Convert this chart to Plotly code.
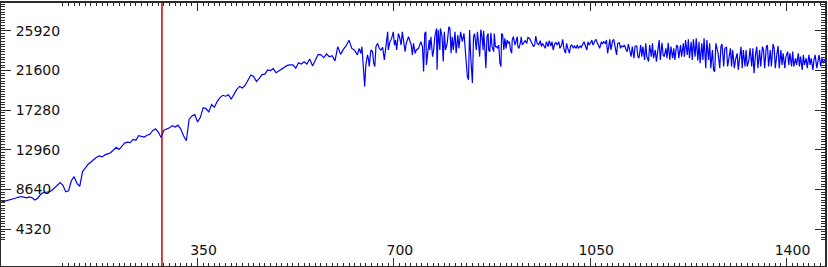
import plotly.graph_objects as go

# ---- data -------------------------------------------------------------
# smooth part of the spectrum: sampled every 5 units from 0 to 635
SMOOTH_START = 0
SMOOTH_STEP = 5
Y_SMOOTH = [
    7272, 7344, 7452, 7524, 7596, 7700, 7800, 7884, 7812, 7740,
    7850, 7750, 7500, 7700, 8100, 8316, 8350, 8388, 8550, 8800,
    9050, 9400, 9100, 8400, 8500, 9600, 10044, 9300, 9000, 10600,
    11000, 11400, 11650, 11950, 12150, 12300, 12200, 12420, 12500, 12650,
    12950, 13250, 13000,
    13300, 13700, 13800, 13750, 14100, 14000, 14500, 14400, 14350, 14550,
    14650, 15050, 15250, 14900, 14300, 15100, 15200, 15370, 15600, 15450,
    15650, 15250, 14500, 13950, 16300, 16650, 16800, 16000, 16500, 17550,
    17450, 17100, 17900, 17600, 18250, 18650, 18900, 18800, 18950, 18500,
    19000, 19550,
    19870, 19700, 20000, 20500, 21100, 20950, 20400, 20750, 21150, 21200,
    21670, 21600, 21800, 21350, 21550, 21750, 22000, 22150, 22200, 22200,
    21850, 22450, 22300, 22550, 22300, 22850, 22100, 22650, 23350, 23300,
    23000, 23400, 23100, 23200, 22650, 24200, 23350, 23900, 24300, 24900,
    24000, 23800, 23300,
]

# detailed (spiky / oscillating) part of the spectrum
X_DETAIL = [
    638, 641, 643, 644, 646, 648, 650, 653, 655, 656,
    659, 662, 664, 666, 668, 671, 674, 677, 680, 683,
    684, 687, 689, 690, 693, 696, 699, 701, 703, 705,
    708, 710, 713, 715, 718, 720, 722, 726, 728, 731,
    733, 735, 738, 740, 744, 746, 748, 751, 753, 755,
    757, 758, 761, 763, 764, 766, 769, 771, 773, 776,
    777, 779, 782, 783, 786, 788, 790, 792, 795, 798,
    800, 802, 804, 806, 809, 811, 814, 816, 819, 822,
    825, 828, 831, 833, 835, 837, 840, 842, 844, 847,
    849,
    852, 853, 855, 857, 859, 860, 862, 864, 866, 868,
    869, 871, 873, 875, 878, 879, 881, 883, 885, 887,
    889, 891, 892, 894, 896, 898, 900, 902, 904, 906,
    908, 910, 911, 913, 916, 918, 920, 921, 923, 926,
    927, 929, 932, 934, 937, 939, 942, 944, 946, 949,
    951, 953, 955, 958, 961, 963, 965, 968, 970, 972,
    975, 977, 980, 982, 984, 987, 989, 991, 994, 996,
    999, 1001, 1003, 1006, 1008, 1010, 1013, 1015, 1017, 1020,
    1022, 1025, 1027, 1029, 1032, 1034, 1036, 1039, 1041, 1044,
    1046, 1048, 1051, 1053, 1055, 1058, 1060, 1063,
    1065, 1067, 1070, 1072, 1074, 1077, 1079, 1081, 1083, 1085,
    1087, 1090, 1092, 1095, 1097, 1099, 1102, 1104, 1106, 1109,
    1111, 1114, 1116, 1118, 1121, 1123, 1125, 1128, 1130, 1133,
    1135, 1137, 1140, 1142, 1144, 1147, 1149, 1151, 1154, 1156,
    1159, 1161, 1163, 1166, 1168, 1170, 1173, 1175, 1178, 1180,
    1182, 1185, 1187, 1189, 1192, 1194, 1197, 1199, 1201, 1204,
    1206, 1208, 1211, 1213, 1216, 1218, 1220, 1223, 1225, 1227,
    1230, 1232, 1234, 1237, 1239, 1242, 1244, 1246, 1249, 1251,
    1253, 1256, 1258, 1261, 1263, 1265, 1268, 1270, 1272, 1274,
    1277,
    1278, 1281, 1283, 1285, 1288, 1290, 1293, 1295, 1297, 1300,
    1302, 1304, 1307, 1309, 1312, 1314, 1316, 1319, 1321, 1323,
    1326, 1328, 1330, 1333, 1335, 1338, 1340, 1342, 1345, 1347,
    1349, 1352, 1354, 1357, 1359, 1361, 1364, 1366, 1368, 1371,
    1373, 1376, 1378, 1380, 1383, 1385, 1387, 1390, 1392, 1394,
    1397, 1399, 1402, 1404, 1406, 1409, 1411, 1413, 1416, 1418,
    1421, 1423, 1425, 1428, 1430, 1432, 1435, 1437, 1440, 1442,
    1444, 1447, 1449, 1451, 1454, 1456, 1458, 1461, 1463, 1466,
    1468,
]
Y_DETAIL = [
    24012, 23472, 24192, 23184, 22392, 19872, 22212, 23292, 22752, 22032,
    23832, 23652, 22392, 22032, 24192, 24552, 24012, 23832, 24120, 22752,
    23292, 25092, 25812, 23832, 24732, 25092, 25812, 24372, 24912, 23832,
    25632, 25272, 24372, 25812, 24552, 23652, 24552, 25272, 24912, 24372,
    23292, 24552, 23472, 23832, 24012, 24372, 24732, 24192, 21492, 25632,
    25812, 22212, 24192, 24912, 23832, 25272, 23112, 23832, 25272, 26172,
    21672, 25992, 23832, 26172, 25272, 22572, 25812, 23832, 24552, 26352,
    26172, 23472, 25272, 23832, 25812, 23472, 25452, 24012, 25812, 24732,
    25632, 22752, 20952, 20592, 25992, 23112, 20232, 25272, 25632, 23832,
    25812,
    23832, 23112, 26064, 25272, 23832, 25920, 24192, 21852, 25272, 25632,
    23832, 23652, 25704, 24192, 23652, 25632, 24192, 24192, 24012, 24372,
    22392, 22032, 25632, 25452, 23832, 25092, 24012, 24912, 24552, 24732,
    23832, 23472, 24912, 25272, 24372, 24912, 25272, 24192, 24012, 24732,
    25272, 24372, 24732, 24840, 24552, 25200, 25092, 24840, 24552, 24192,
    24372, 25344, 24624, 24372, 24840, 24192, 24552, 24192, 24012, 24732,
    24192, 24840, 24264, 24732, 23832, 24552, 24624, 24372, 24732, 24012,
    24372, 25000, 24012, 23472, 24552, 24012, 23472, 24264, 24372, 24012,
    24264, 24012, 24372, 24012, 24264, 24120, 24372, 24732, 24372, 23832,
    24732, 24372, 24624, 24912, 24372, 24732, 25000, 24552,
    24264, 24012, 24732, 24480, 24732, 24552, 24912, 23472, 24192, 24984,
    23832, 24840, 24984, 24012, 23292, 24552, 24624, 24012, 24264, 24192,
    24372, 23832, 23652, 24480, 23652, 23112, 24192, 22932, 24264, 24264,
    23112, 22932, 24372, 23112, 24192, 22752, 24552, 23112, 22572, 24372,
    23112, 24552, 22932, 23832, 22572, 23832, 24912, 22752, 24624, 23292,
    23112, 24012, 22932, 24624, 22752, 24192, 22932, 24012, 22752, 24372,
    24192, 22932, 24372, 23112, 24552, 23112, 24912, 23292, 24984, 22932,
    24732, 22752, 24984, 23112, 25092, 22680, 24732, 22392, 24552, 22752,
    25092, 21852, 24912, 22752, 24552, 21852, 23832, 21612, 21492, 24552,
    23832,
    23472, 21852, 24192, 24480, 22032, 24012, 24120, 22032, 23112, 24012,
    22032, 23832, 21852, 22752, 23472, 21672, 22752, 24192, 21852, 23832,
    22032, 23832, 22032, 22752, 24012, 22032, 24012, 21312, 23472, 24192,
    21852, 23832, 22032, 24192, 23832, 21852, 24192, 24372, 22032, 23832,
    22032, 24480, 24012, 21852, 23472, 24264, 21852, 23832, 22212, 23472,
    21852, 23112, 23652, 22212, 23472, 22032, 23652, 22032, 22932, 22212,
    23472, 22032, 23112, 21672, 23292, 22212, 22932, 21852, 23292, 22212,
    22932, 21672, 22752, 23292, 21852, 22572, 23292, 22032, 22932, 22392,
    22752,
]

X_TICKS = [350, 700, 1050, 1400]
Y_TICKS = [4320, 8640, 12960, 17280, 21600, 25920]
MARKER_X = 286.5

X_RANGE = [-0.4, 1468.6]
Y_RANGE = [324, 28944]

# ---- build ------------------------------------------------------------
x_all = [SMOOTH_START + SMOOTH_STEP * i for i in range(len(Y_SMOOTH))] + X_DETAIL
y_all = Y_SMOOTH + Y_DETAIL

fig = go.Figure()
fig.add_trace(go.Scatter(
    x=x_all, y=y_all, mode="lines",
    line=dict(color="#0000ff", width=1.2),
    hoverinfo="skip",
))
fig.add_vline(x=MARKER_X, line=dict(color="#cc0000", width=1.5))

frame = "#2a2a2a"
font = dict(family="DejaVu Sans, Verdana, sans-serif", size=14, color="#111111")

fig.update_layout(
    width=828, height=267,
    margin=dict(l=1, r=1, t=1, b=1),
    paper_bgcolor="white", plot_bgcolor="white",
    showlegend=False,
    font=font,
)
fig.update_xaxes(
    range=X_RANGE, tickvals=X_TICKS, ticktext=[str(v) for v in X_TICKS],
    showgrid=False, zeroline=False,
    showline=True, linecolor=frame, linewidth=2, mirror="allticks",
    ticks="inside", ticklen=8, tickwidth=1, tickcolor=frame,
    ticklabelposition="inside", ticklabelshift=6,
    minor=dict(ticks="inside", ticklen=3, dtick=10, tick0=0, tickcolor=frame, showgrid=False),
    tickfont=font,
)
fig.update_yaxes(
    range=Y_RANGE, tickvals=Y_TICKS, ticktext=["&nbsp;" + str(v) for v in Y_TICKS],
    showgrid=False, zeroline=False,
    showline=True, linecolor=frame, linewidth=2, mirror="allticks",
    ticks="inside", ticklen=10, tickwidth=1, tickcolor=frame,
    ticklabelposition="inside",
    minor=dict(ticks="inside", ticklen=4, dtick=288, tick0=0, tickcolor=frame, showgrid=False),
    tickfont=font,
)

fig.write_html("out.html")
